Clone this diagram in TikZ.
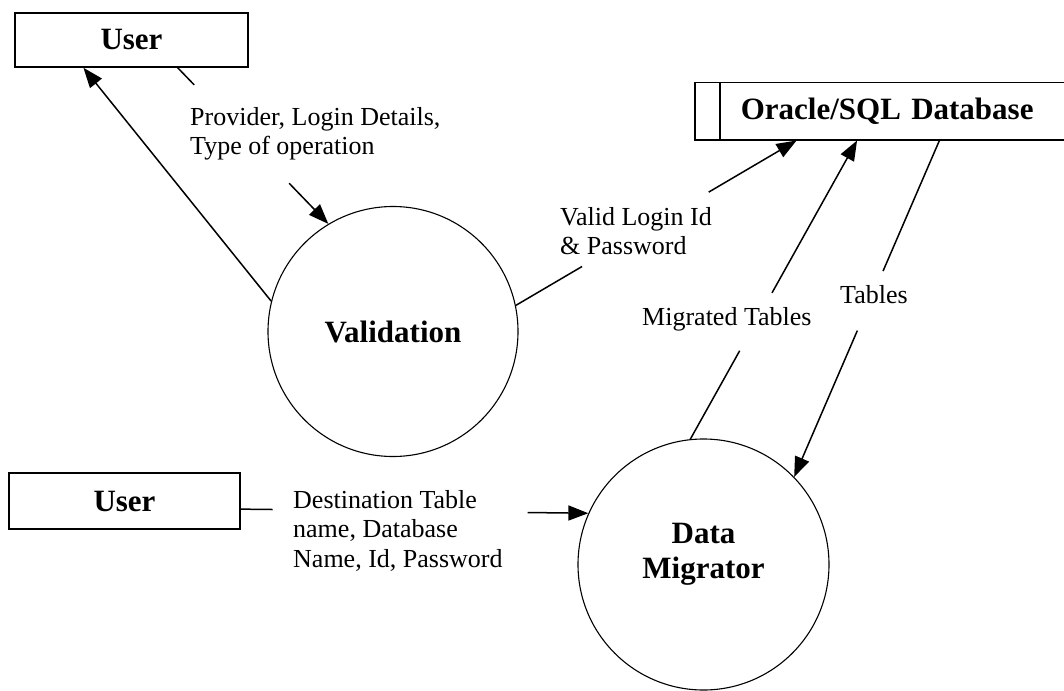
\documentclass[tikz,border=0pt]{standalone}
\usepackage{fontspec}
\setmainfont{Liberation Serif}
\usetikzlibrary{arrows.meta,calc}

\tikzset{
  box/.style={draw, line width=1.5pt, font=\bfseries\fontsize{31}{35}\selectfont},
  proc/.style={draw, circle, line width=1.1pt, align=center, font=\bfseries\fontsize{31}{35}\selectfont},
  lbl/.style={inner sep=0pt, align=left, font=\fontsize{26}{29.5}\selectfont},
  flow/.style={line width=1.5pt, -{Triangle[length=20pt,width=15pt]}}
}

\begin{document}
\begin{tikzpicture}[x=1pt,y=1pt]
\useasboundingbox (0,0) rectangle (1064,-690);
\node[box, minimum width=233pt, minimum height=54pt] (user1) at (131.5,-40) {User};
\node[box, minimum width=231pt, minimum height=56pt] (user2) at (124.5,-501) {User};
\node[box, anchor=north west, minimum height=57pt, text width=330pt, inner xsep=46pt, align=left] (db) at (694,-82) {Oracle/SQL Database};
\draw[line width=1.5pt] ([xshift=26pt]db.north west) -- ([xshift=26pt]db.south west);
\node[proc, minimum size=250pt] (valid) at (393,-331.5) {Validation};
\node[proc, minimum size=251pt, text depth=27pt] (dm) at (703.5,-564.5) {Data\\Migrator};
\node[lbl, anchor=north west] (lprov) at (190,-107) {Provider, Login Details,\\Type of operation};
\node[lbl, anchor=north west] (lvalid) at (560,-207) {Valid Login Id\\\& Password};
\node[lbl, anchor=north west] (ldest) at (293,-490) {Destination Table\\name, Database\\Name, Id, Password};
\node[lbl, anchor=base west] (lmig) at (642,-325) {Migrated Tables};
\node[lbl, anchor=base west] (ltab) at (840,-303) {Tables};
\draw[flow] (valid.166) -- (user1.-150);
\draw[line width=1.5pt] (user1.-31) -- ($(user1.-31)!.11!(valid.121)$);
\draw[flow] ($(user1.-31)!.74!(valid.121)$) -- (valid.121);
\draw[line width=1.5pt] (valid.12) -- ($(valid.12)!.236!(db.-165)$);
\draw[flow] ($(valid.12)!.687!(db.-165)$) -- (db.-165);
\draw[line width=1.5pt] (dm.96) -- ($(dm.96)!.296!(db.-149)$);
\draw[flow] ($(dm.96)!.49!(db.-149)$) -- (db.-149);
\draw[line width=1.5pt] (db.-41) -- ($(db.-41)!.388!(dm.44)$);
\draw[flow] ($(db.-41)!.565!(dm.44)$) -- (dm.44);
\draw[line width=1.5pt] (user2.-4) -- ($(user2.-4)!.092!(dm.156)$);
\draw[flow] ($(user2.-4)!.825!(dm.156)$) -- (dm.156);
\end{tikzpicture}
\end{document}
